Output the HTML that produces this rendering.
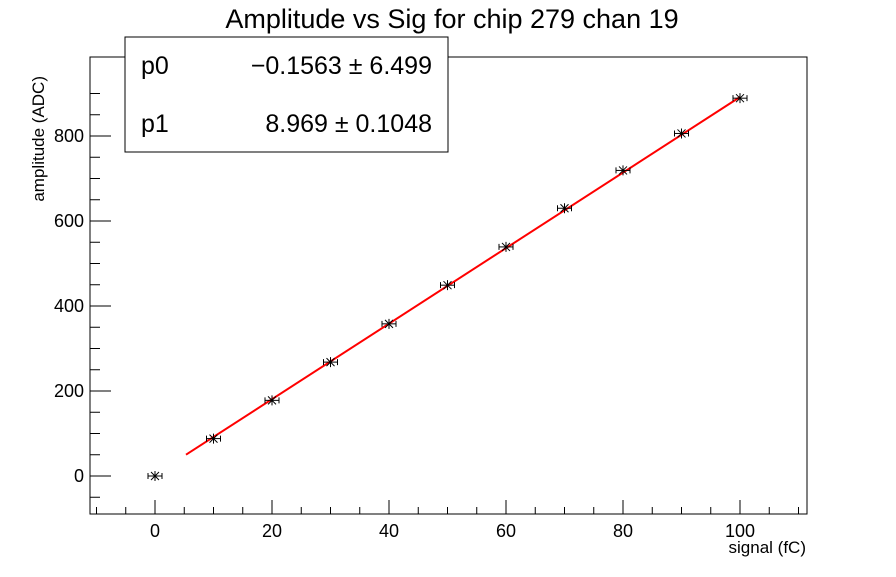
<!DOCTYPE html>
<html><head><meta charset="utf-8"><style>
body{margin:0;background:#fff}
svg text{font-family:"Liberation Sans",sans-serif;fill:#000}
</style></head><body>
<svg width="896" height="572" viewBox="0 0 896 572" xmlns="http://www.w3.org/2000/svg">
<rect width="896" height="572" fill="#fff"/>
<text x="452" y="28" font-size="27" text-anchor="middle">Amplitude vs Sig for chip 279 chan 19</text>
<rect x="90" y="57" width="717" height="457" fill="none" stroke="#000" stroke-width="1"/>
<g stroke="#000" stroke-width="1" id="ticks"></g>
<g font-size="18" text-anchor="middle" id="xl"></g>
<g font-size="18" text-anchor="end" id="yl"></g>
<text x="806" y="553" font-size="17" text-anchor="end">signal (fC)</text>
<text transform="translate(44,76) rotate(-90)" font-size="17" text-anchor="end">amplitude (ADC)</text>
<line x1="186" y1="454.7" x2="740" y2="97" stroke="#f00" stroke-width="2"/>
<g id="pts" stroke="#000" stroke-width="1"></g>
<rect x="125" y="37" width="323" height="115" fill="#fff" stroke="#000" stroke-width="1"/>
<text x="141" y="74" font-size="25">p0</text>
<text x="432" y="74" font-size="25" text-anchor="end">−0.1563 ± 6.499</text>
<text x="141" y="132" font-size="25">p1</text>
<text x="432" y="132" font-size="25" text-anchor="end">8.969 ± 0.1048</text>
</svg>
<script>
const X=v=>155+v*5.85, Y=v=>476-v*0.425;
let t='',xl='',yl='';
for(let v=-10;v<=110;v+=5){const x=X(v);const L=(v%20==0)?14:7;t+=`<line x1="${x}" y1="514" x2="${x}" y2="${514-L}"/>`;if(v%20==0&&v>=0&&v<=100)xl+=`<text x="${x}" y="537">${v}</text>`;}
for(let v=-50;v<=900;v+=50){const y=Y(v);const L=(v%200==0)?21:10;t+=`<line x1="90" y1="${y}" x2="${90+L}" y2="${y}"/>`;if(v%200==0)yl+=`<text x="84" y="${y+6}">${v}</text>`;}
document.getElementById('ticks').innerHTML=t;
document.getElementById('xl').innerHTML=xl;
document.getElementById('yl').innerHTML=yl;
const d=[0,88,178,268,358,449,539,630,719,806,889];let p='';
d.forEach((v,i)=>{const x=X(i*10),y=Y(v);p+=`<line x1="${x-7}" y1="${y}" x2="${x+7}" y2="${y}"/><line x1="${x-7}" y1="${y-3}" x2="${x-7}" y2="${y+3}"/><line x1="${x+7}" y1="${y-3}" x2="${x+7}" y2="${y+3}"/><line x1="${x}" y1="${y-5}" x2="${x}" y2="${y+5}"/><line x1="${x-4}" y1="${y-4}" x2="${x+4}" y2="${y+4}"/><line x1="${x-4}" y1="${y+4}" x2="${x+4}" y2="${y-4}"/>`;});
document.getElementById('pts').innerHTML=p;
</script>
</body></html>
